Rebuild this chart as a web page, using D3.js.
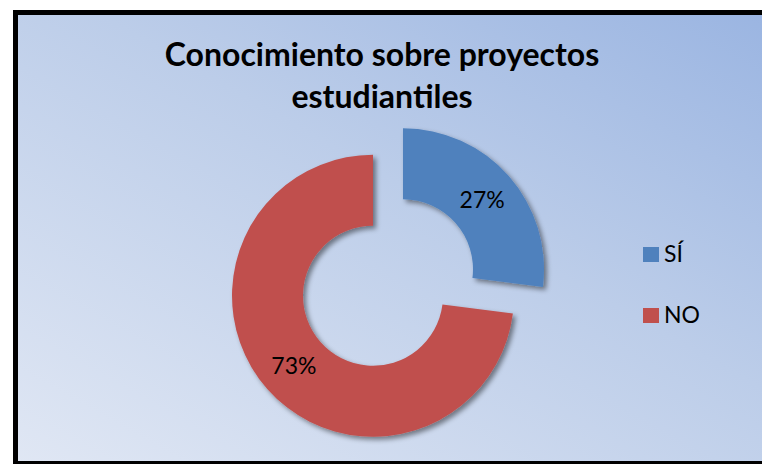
<!DOCTYPE html>
<html>
<head>
<meta charset="utf-8">
<script src="https://cdn.jsdelivr.net/npm/d3@7"></script>
<style>
  html, body { margin: 0; padding: 0; background: #fff; }
  svg { display: block; }
</style>
</head>
<body>
<div id="chart"></div>
<script>
// chart data
const categories = ["SÍ", "NO"];
const values = [27, 73];
const colors = ["#4F81BD", "#C0504D"];
const titleLines = ["Conocimiento sobre proyectos", "estudiantiles"];

const width = 762, height = 464;
const cx = 388, cy = 282.5;
const outerR = 141, innerR = 70, explode = 20;
const font = "Lato, 'Open Sans', sans-serif";

const svg = d3.select("#chart").append("svg")
    .attr("width", width)
    .attr("height", height);

const defs = svg.append("defs");
const grad = defs.append("linearGradient")
    .attr("id", "bg")
    .attr("x1", "0%").attr("y1", "100%")
    .attr("x2", "100%").attr("y2", "0%");
grad.append("stop").attr("offset", "0%").attr("stop-color", "#e0e7f4");
grad.append("stop").attr("offset", "55%").attr("stop-color", "#bccde9");
grad.append("stop").attr("offset", "100%").attr("stop-color", "#98b3e1");

const shadow = defs.append("filter")
    .attr("id", "shadow")
    .attr("x", "-20%").attr("y", "-20%")
    .attr("width", "140%").attr("height", "140%");
shadow.append("feDropShadow")
    .attr("dx", 3).attr("dy", 3)
    .attr("stdDeviation", 2.5)
    .attr("flood-color", "#000")
    .attr("flood-opacity", 0.45);

// frame (clipped at right / bottom like the original screenshot)
svg.append("rect")
    .attr("x", 15.5).attr("y", 12.5)
    .attr("width", 800).attr("height", 451)
    .attr("fill", "url(#bg)")
    .attr("stroke", "#000")
    .attr("stroke-width", 5);

// title
svg.append("text")
    .attr("x", 382).attr("y", 66)
    .attr("text-anchor", "middle")
    .attr("font-family", font)
    .attr("font-weight", "bold")
    .attr("font-size", 32)
    .selectAll("tspan")
    .data(titleLines).enter().append("tspan")
    .attr("x", 382)
    .attr("dy", (d, i) => i === 0 ? 0 : 42)
    .text(d => d);

// donut
const pie = d3.pie().sort(null).value(d => d);
const arc = d3.arc().innerRadius(innerR).outerRadius(outerR);
const arcs = pie(values);

const slices = svg.append("g")
    .attr("transform", `translate(${cx},${cy})`)
    .selectAll("g.slice")
    .data(arcs).enter().append("g")
    .attr("class", "slice")
    .attr("transform", d => {
        const a = (d.startAngle + d.endAngle) / 2;
        return `translate(${explode * Math.sin(a)},${-explode * Math.cos(a)})`;
    });

slices.append("path")
    .attr("d", arc)
    .attr("fill", (d, i) => colors[i])
    .attr("filter", "url(#shadow)");

slices.append("text")
    .attr("transform", d => `translate(${arc.centroid(d)})`)
    .attr("text-anchor", "middle")
    .attr("dy", "0.36em")
    .attr("font-family", font)
    .attr("font-size", 23)
    .attr("fill", "#000")
    .text(d => Math.round(d.data) + "%");

// legend
const legend = svg.append("g")
    .attr("transform", "translate(643,247)")
    .selectAll("g")
    .data(categories).enter().append("g")
    .attr("transform", (d, i) => `translate(0,${i * 61})`);

legend.append("rect")
    .attr("width", 16).attr("height", 15)
    .attr("fill", (d, i) => colors[i]);

legend.append("text")
    .attr("x", 21).attr("y", 15)
    .attr("font-family", font)
    .attr("font-size", 23)
    .attr("fill", "#000")
    .text(d => d);
</script>
</body>
</html>
